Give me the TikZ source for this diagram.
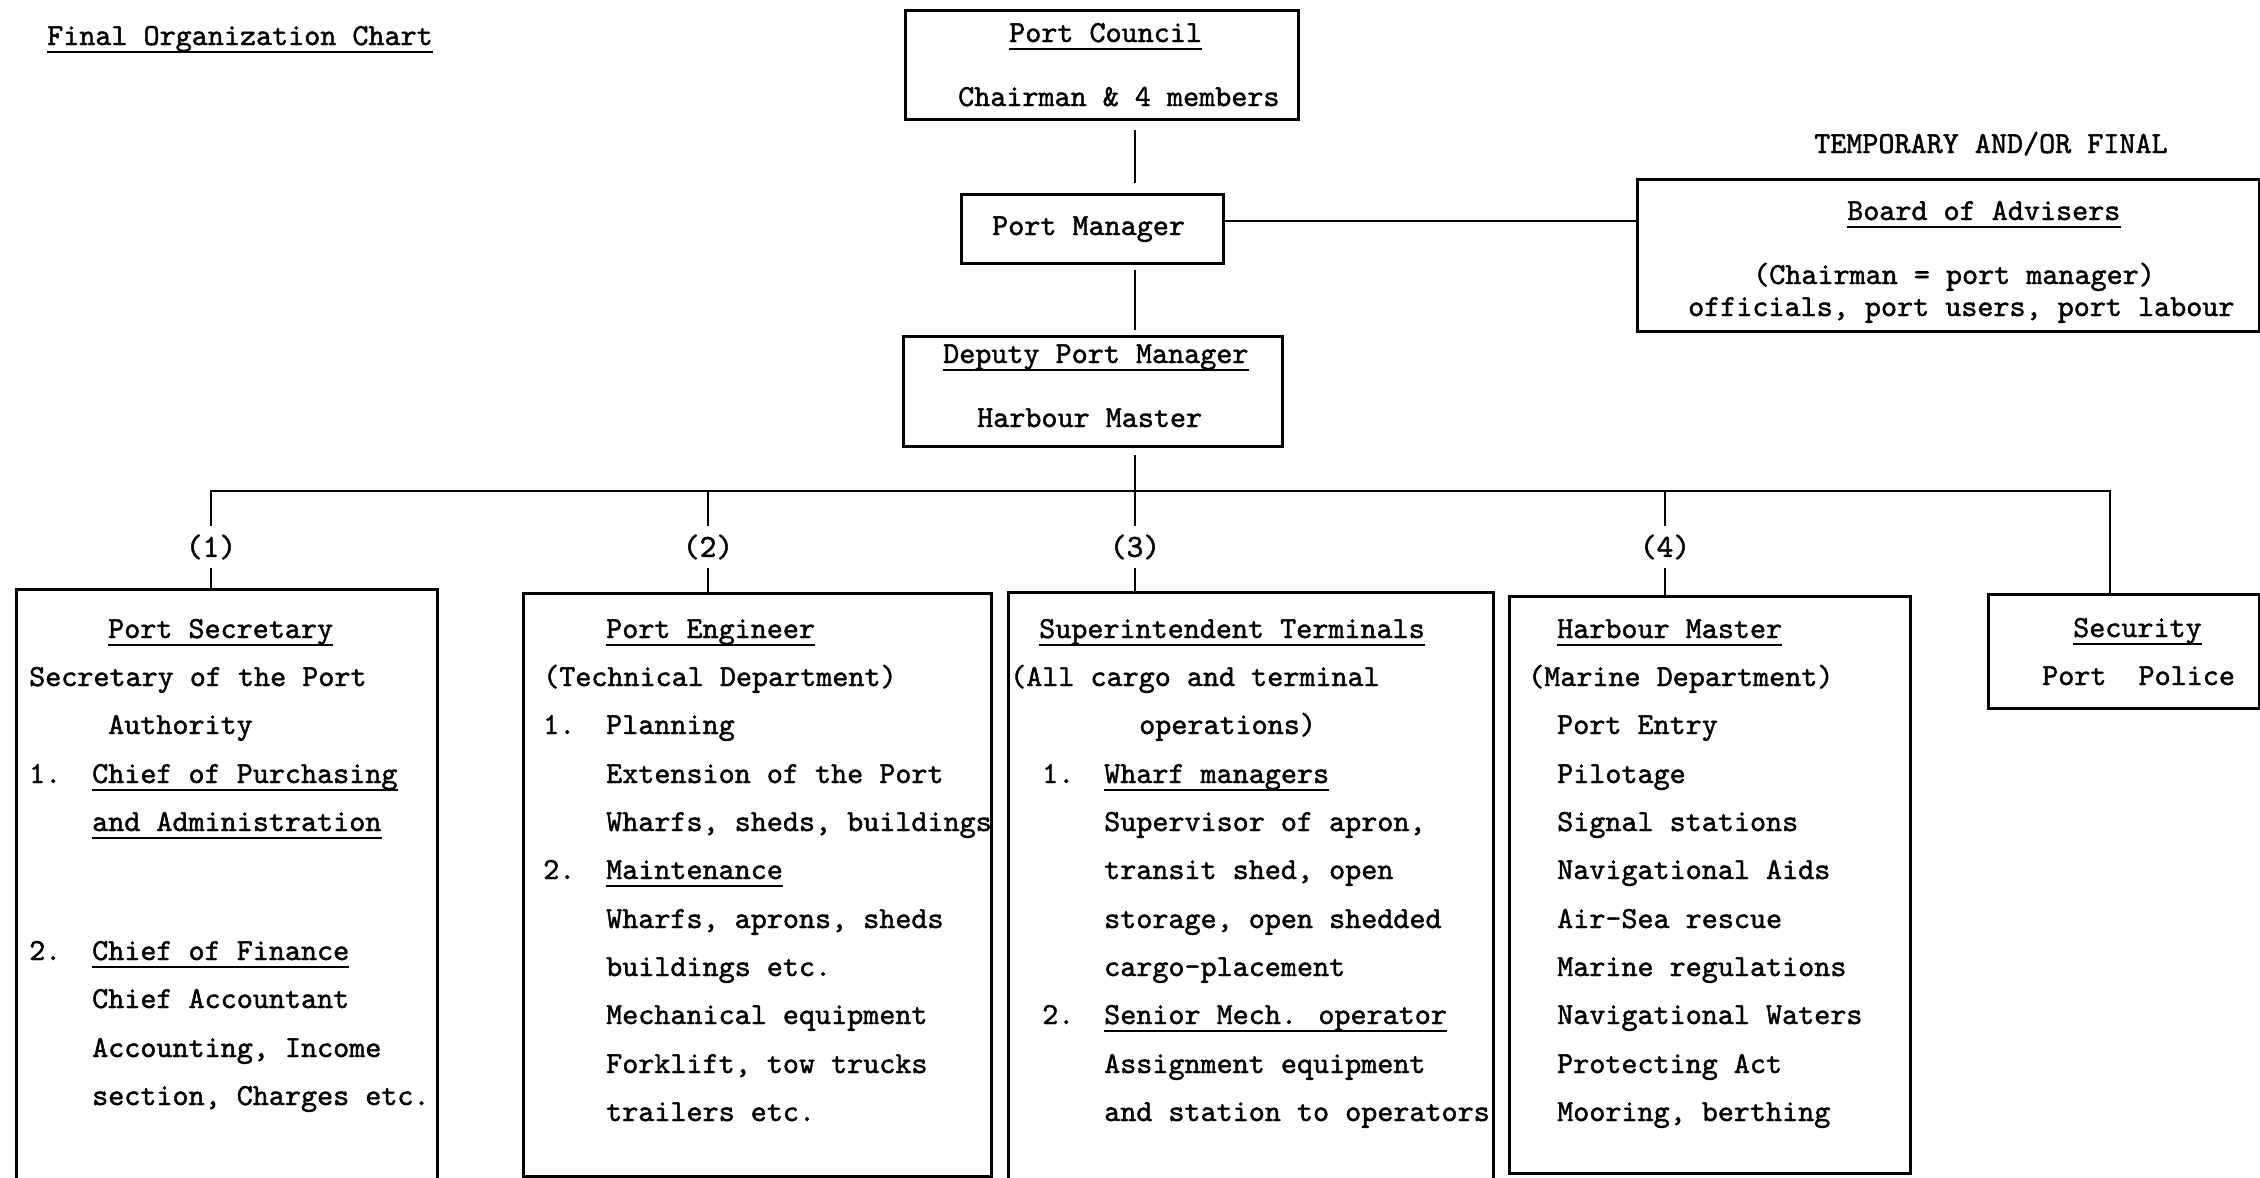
\documentclass[tikz,border=0pt]{standalone}
\usepackage{fontspec}
\newfontfamily\tw{lmmono10-regular.otf}[FakeBold=1.4]
\newcommand{\utext}[3]{\node[txt] (#1) at (#2) {#3};
  \draw[uline] ([yshift=-7pt]#1.base west) -- ([yshift=-7pt]#1.base east);}
\begin{document}
\begin{tikzpicture}[x=1pt,y=-1pt,
  txt/.style={font={\fontsize{30.6pt}{36pt}\tw\bfseries}, inner sep=0pt, anchor=base west},
  box/.style={draw, line width=2.9pt, anchor=north west, inner sep=0pt},
  conn/.style={line width=2.7pt, line join=miter},
  uline/.style={line width=2.8pt},
  lab/.style={font={\fontsize{32pt}{36pt}\tw\bfseries}, inner sep=0pt, anchor=center, minimum height=42pt}]
\useasboundingbox (0,0) rectangle (2260,1178);

% ---------- boxes ----------
\node[box, minimum width=393pt, minimum height=109pt] (pc)  at (904,9) {};
\node[box, minimum width=262pt, minimum height=69pt]  (pm)  at (960,193) {};
\node[box, minimum width=622pt, minimum height=152pt] (adv) at (1636,178) {};
\node[box, minimum width=379pt, minimum height=110pt] (dpm) at (902,335) {};
\node[box, minimum width=421pt, minimum height=640pt] (b1)  at (15,588) {};
\node[box, minimum width=468pt, minimum height=583pt] (b2)  at (522,592) {};
\node[box, minimum width=485pt, minimum height=640pt] (b3)  at (1007,591) {};
\node[box, minimum width=401pt, minimum height=577pt] (b4)  at (1508,595) {};
\node[box, minimum width=271pt, minimum height=114pt] (sec) at (1987,593) {};

% ---------- labels on drops ----------
\node[lab] (l1) at (211,547) {(1)};
\node[lab] (l2) at (708,547) {(2)};
\node[lab] (l3) at (1135,547) {(3)};
\node[lab] (l4) at (1665,547) {(4)};

% ---------- helper coordinates ----------
\coordinate (spine) at (1135,0);
\coordinate (bus) at (0,491);
\coordinate (busR) at (2110,491);
\coordinate (advy) at (0,221);

% ---------- connectors ----------
\draw[conn, shorten <=9pt, shorten >=10pt] (pc.south -| spine) -- (pm.north -| spine);
\draw[conn, shorten <=5pt, shorten >=5pt] (pm.south -| spine) -- (dpm.north -| spine);
\draw[conn] (pm.east |- advy) -- (adv.west |- advy);
\draw[conn, shorten <=7pt] (dpm.south -| spine) -- (l3.north);
\draw[conn] (l1.north) -- (l1.north |- bus) -- (busR) -- (sec.north -| busR);
\draw[conn] (l2.north) -- (l2.north |- bus);
\draw[conn] (l4.north) -- (l4.north |- bus);
\draw[conn] (l1.south) -- (b1.north -| l1.south);
\draw[conn] (l2.south) -- (b2.north -| l2.south);
\draw[conn] (l3.south) -- (b3.north -| l3.south);
\draw[conn] (l4.south) -- (b4.north -| l4.south);

% ---------- top texts ----------
\utext{title}{47,45}{Final Organization Chart}
\node[txt] (temp) at (1814,153) {TEMPORARY AND/OR FINAL};

\utext{pct}{1009,42}{Port Council}
\node[txt] (pcs) at (958,106) {Chairman \& 4 members};
\node[txt] (pmt) at (992,235) {Port Manager};
\utext{advt}{1847,220}{Board of Advisers}
\node[txt] (adv1) at (1753,284) {(Chairman = port manager)};
\node[txt] (adv2) at (1688,316) {officials, port users, port labour};
\utext{dpmt}{943,363}{Deputy Port Manager}
\node[txt] (dpms) at (977,427) {Harbour Master};

% ---------- box 1 ----------
\utext{b1t}{108,638}{Port Secretary}
\node[txt] (b1a) at (29,686) {Secretary of the Port};
\node[txt] (b1b) at (108,734) {Authority};
\node[txt] (b1n1) at (29,783) {1.};
\utext{b1c}{92,783}{Chief of Purchasing}
\utext{b1d}{92,831}{and Administration}
\node[txt] (b1n2) at (29,960) {2.};
\utext{b1e}{92,960}{Chief of Finance}
\node[txt] (b1f) at (92,1008) {Chief Accountant};
\node[txt] (b1g) at (92,1057) {Accounting, Income};
\node[txt] (b1h) at (92,1105) {section, Charges etc.};

% ---------- box 2 ----------
\utext{b2t}{606,638}{Port Engineer}
\node[txt] (b2a) at (543,686) {(Technical Department)};
\node[txt] (b2n1) at (543,734) {1.};
\node[txt] (b2b) at (606,734) {Planning};
\node[txt] (b2c) at (606,783) {Extension of the Port};
\node[txt] (b2d) at (606,831) {Wharfs, sheds, buildings};
\node[txt] (b2n2) at (543,879) {2.};
\utext{b2e}{606,879}{Maintenance}
\node[txt] (b2f) at (606,928) {Wharfs, aprons, sheds};
\node[txt] (b2g) at (606,976) {buildings etc.};
\node[txt] (b2h) at (606,1024) {Mechanical equipment};
\node[txt] (b2i) at (606,1073) {Forklift, tow trucks};
\node[txt] (b2j) at (606,1121) {trailers etc.};

% ---------- box 3 ----------
\utext{b3t}{1039,638}{Superintendent Terminals}
\node[txt] (b3a) at (1010,686) {(All cargo and terminal};
\node[txt] (b3b) at (1139,734) {operations)};
\node[txt] (b3n1) at (1042,783) {1.};
\utext{b3c}{1104,783}{Wharf managers}
\node[txt] (b3d) at (1104,831) {Supervisor of apron,};
\node[txt] (b3e) at (1104,879) {transit shed, open};
\node[txt] (b3f) at (1104,928) {storage, open shedded};
\node[txt] (b3g) at (1104,976) {cargo-placement};
\node[txt] (b3n2) at (1042,1024) {2.};
\utext{b3h}{1104,1024}{Senior Mech. operator}
\node[txt] (b3i) at (1104,1073) {Assignment equipment};
\node[txt] (b3j) at (1104,1121) {and station to operators};

% ---------- box 4 ----------
\utext{b4t}{1557,638}{Harbour Master}
\node[txt] (b4a) at (1528,686) {(Marine Department)};
\node[txt] (b4b) at (1557,734) {Port Entry};
\node[txt] (b4c) at (1557,783) {Pilotage};
\node[txt] (b4d) at (1557,831) {Signal stations};
\node[txt] (b4e) at (1557,879) {Navigational Aids};
\node[txt] (b4f) at (1557,928) {Air-Sea rescue};
\node[txt] (b4g) at (1557,976) {Marine regulations};
\node[txt] (b4h) at (1557,1024) {Navigational Waters};
\node[txt] (b4i) at (1557,1073) {Protecting Act};
\node[txt] (b4j) at (1557,1121) {Mooring, berthing};

% ---------- security ----------
\utext{sect}{2073,637}{Security}
\node[txt] (secs) at (2042,685) {Port\ \ Police};
\end{tikzpicture}
\end{document}
